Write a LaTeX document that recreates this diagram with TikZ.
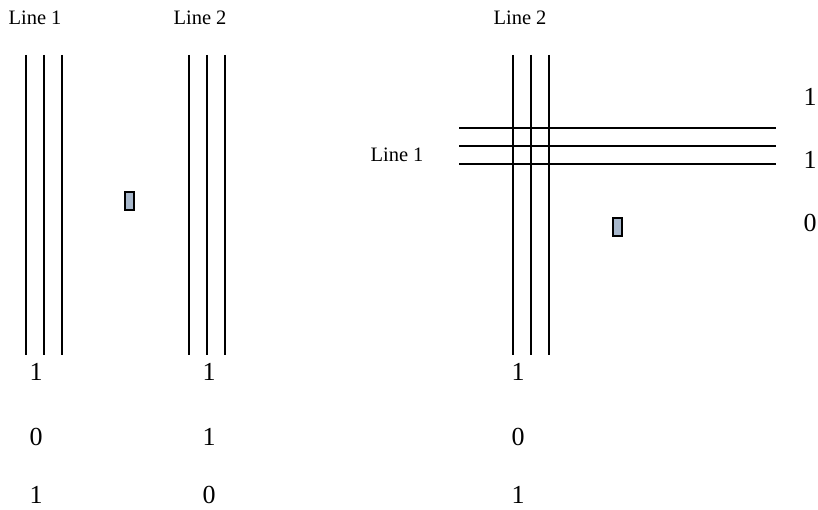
\documentclass[tikz,border=0pt]{standalone}
\usepackage{fontspec}
\setmainfont{Liberation Serif}
\definecolor{cellfill}{RGB}{168,184,204}
\begin{document}
\begin{tikzpicture}[x=1pt,y=-1pt,
  wire/.style={line width=1.6pt,black},
  lbl/.style={font=\fontsize{20.5}{24}\selectfont,inner sep=0pt},
  num/.style={font=\fontsize{26}{31}\selectfont,inner sep=0pt},
  cell/.style={draw=black,line width=2.2pt,fill=cellfill,minimum width=8.8pt,minimum height=17.8pt,inner sep=0pt}]
\useasboundingbox (0,0) rectangle (818,510);
% left group
\foreach \x in {26,44,62} \draw[wire] (\x,55) -- (\x,355);
\foreach \x in {189,207,225} \draw[wire] (\x,55) -- (\x,355);
\node[lbl] (l1) at (35,18) {Line 1};
\node[lbl] (l2) at (200,18) {Line 2};
\node[cell] (c1) at (129.5,201) {};
\node[num] (a1) at (36,372) {1};
\node[num] (a2) at (36,437) {0};
\node[num] (a3) at (36,495) {1};
\node[num] (b1) at (209,372) {1};
\node[num] (b2) at (209,437) {1};
\node[num] (b3) at (209,495) {0};
% right group
\foreach \x in {513,531,549} \draw[wire] (\x,55) -- (\x,355);
\foreach \y in {128,146,164} \draw[wire] (459,\y) -- (776,\y);
\node[lbl] (r2) at (520,18) {Line 2};
\node[lbl] (r1) at (397,155) {Line 1};
\node[cell] (c2) at (617.5,227) {};
\node[num] (d1) at (518,372) {1};
\node[num] (d2) at (518,437) {0};
\node[num] (d3) at (518,495) {1};
\node[num] (e1) at (810,97) {1};
\node[num] (e2) at (810,160) {1};
\node[num] (e3) at (810,223) {0};
\end{tikzpicture}
\end{document}
